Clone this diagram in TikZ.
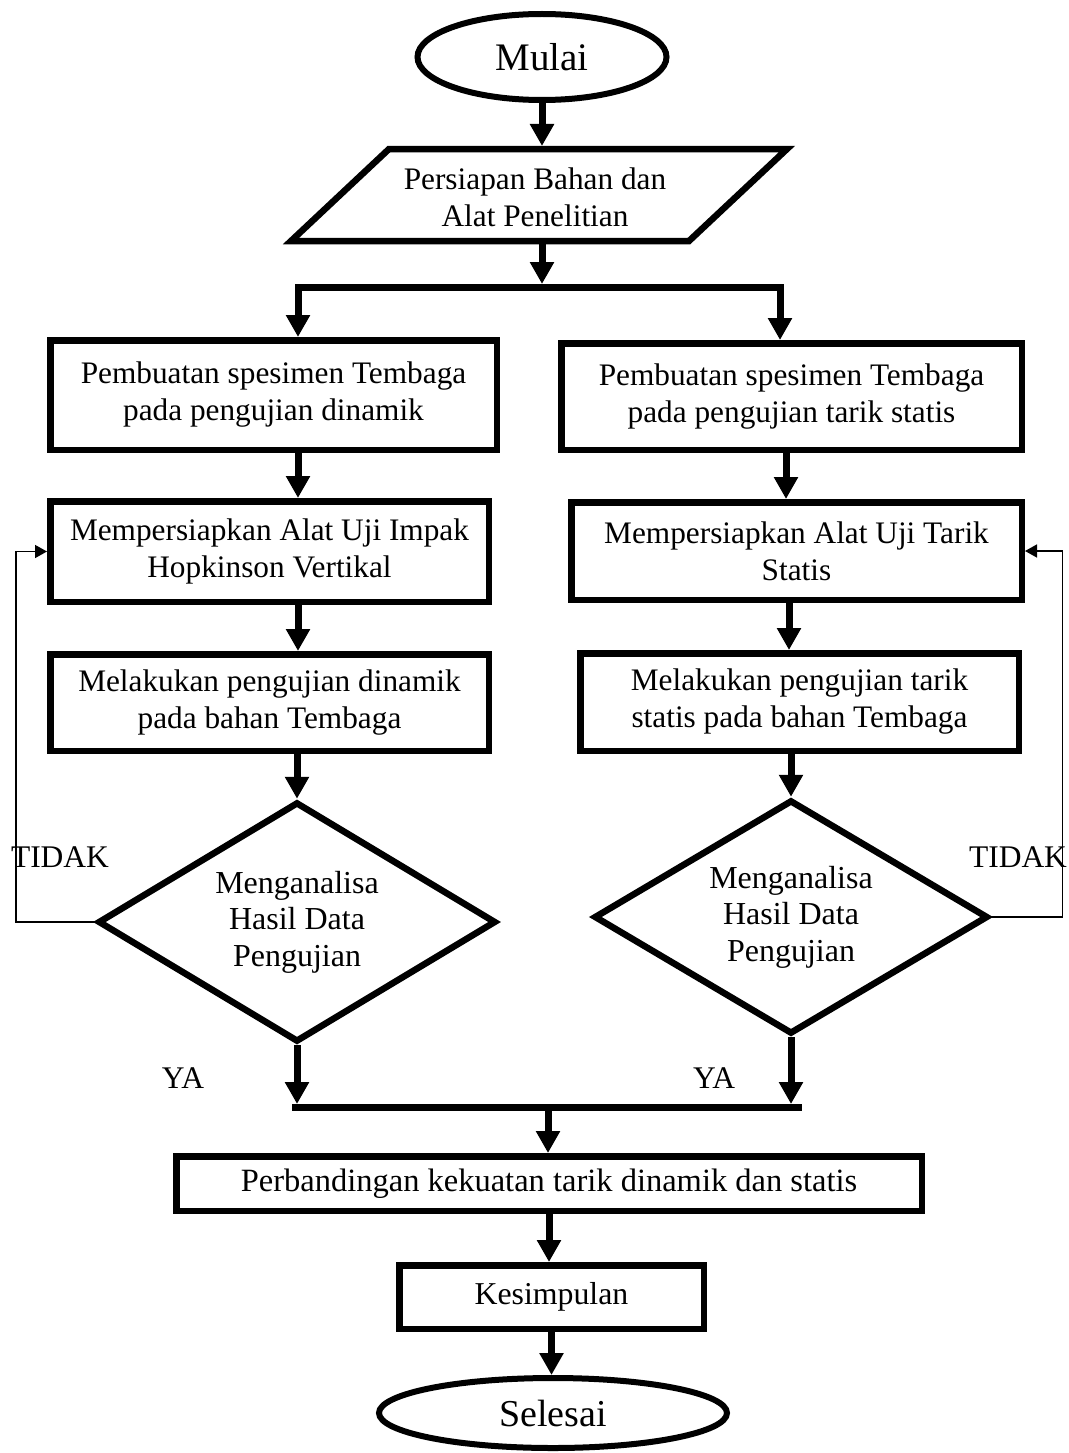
\documentclass[tikz,border=0pt]{standalone}
\usepackage{fontspec}
\setmainfont{Liberation Serif}
\usetikzlibrary{arrows.meta,shapes.geometric}
\begin{document}
\begin{tikzpicture}[x=1pt,y=-1pt,
  txt/.style={font=\fontsize{31.3}{37}\selectfont, align=center},
  box/.style={draw, line width=6.5pt, rectangle, inner sep=0pt, txt},
  term/.style={draw, line width=6pt, ellipse, inner sep=0pt},
  dec/.style={draw, line width=6.5pt, diamond, inner sep=0pt, font=\fontsize{32}{36.5}\selectfont, align=center},
  arr/.style={line width=7pt, -{Triangle[width=23pt,length=22pt]}},
  fb/.style={line width=1.5pt, -{Triangle[width=13pt,length=12pt]}},
  lbl/.style={font=\fontsize{31.5}{36}\selectfont},
  bar/.style={line width=7pt, line cap=rect},
]
\fill[white] (0,0) rectangle (1068,1453);
\useasboundingbox (0,0) rectangle (1068,1453);

% terminals
\node[term, minimum width=249pt, minimum height=86pt, font=\fontsize{39}{40}\selectfont] (start) at (542,57) {Mulai};

% parallelogram
\draw[line width=6.5pt, line join=miter] (389,149) -- (787,149) -- (689,241) -- (291,241) -- cycle;
\node[txt] (prep) at (535,197) {Persiapan Bahan dan\\Alat Penelitian};
\coordinate (prepT) at (542,146);
\coordinate (prepB) at (542,244);

% left column
\node[box, minimum width=446.5pt, minimum height=109.5pt] (b1L) at (273.5,395) {Pembuatan spesimen Tembaga\\pada pengujian dinamik};
\node[box, minimum width=438.5pt, minimum height=100.5pt] (b2L) at (269.5,551.5) {Mempersiapkan Alat Uji Impak\\Hopkinson Vertikal};
\node[box, minimum width=438.5pt, minimum height=96.5pt] (b3L) at (269.5,702.5) {Melakukan pengujian dinamik\\pada bahan Tembaga};
\node[dec, minimum width=398pt, minimum height=240pt, aspect=1.65] (dL) at (297,922) {Menganalisa\\Hasil Data\\Pengujian};

% right column
\node[box, minimum width=460.5pt, minimum height=106.5pt] (b1R) at (791.5,396.5) {Pembuatan spesimen Tembaga\\pada pengujian tarik statis};
\node[box, minimum width=450.5pt, minimum height=97.5pt] (b2R) at (796.5,551) {Mempersiapkan Alat Uji Tarik\\Statis};
\node[box, minimum width=438.5pt, minimum height=97.5pt] (b3R) at (799.5,702) {Melakukan pengujian tarik\\statis pada bahan Tembaga};
\node[dec, minimum width=394pt, minimum height=234pt, aspect=1.65] (dR) at (791,917) {Menganalisa\\Hasil Data\\Pengujian};

% bottom
\node[box, minimum width=745.5pt, minimum height=54.5pt, font=\fontsize{32.5}{37}\selectfont] (perb) at (549,1183.5) {Perbandingan kekuatan tarik dinamik dan statis};
\node[box, minimum width=304.5pt, minimum height=63.5pt, font=\fontsize{31.8}{37}\selectfont] (kes) at (551.5,1297) {Kesimpulan};
\node[term, minimum width=348pt, minimum height=70pt, font=\fontsize{38}{40}\selectfont] (end) at (553,1413) {Selesai};

% labels
\node[lbl] (tidakL) at (60,857) {TIDAK};
\node[lbl] (tidakR) at (1018,857) {TIDAK};
\node[lbl] (yaL) at (183,1078) {YA};
\node[lbl] (yaR) at (714,1078) {YA};

% helper coordinates
\coordinate (jm) at (542,287);
\coordinate (jtop) at (542,284);
\coordinate (jL) at (298,287);
\coordinate (jR) at (780,287);
\coordinate (cL) at (298,0);
\coordinate (cR1) at (786,0);
\coordinate (cR2) at (789,0);
\coordinate (mL) at (292,1107);
\coordinate (mR) at (802,1107);
\coordinate (mid) at (548,1107);
\coordinate (mtop) at (0,1104);

% connectors
\draw[arr] (start) -- (prepT);
\draw[arr] (prepB) -- (jtop);
\draw[bar] (jL) -- (jR);
\draw[arr, line cap=rect] (jL) -- (jL |- b1L.north);
\draw[arr, line cap=rect] (jR) -- (jR |- b1R.north);

\draw[arr] (b1L.south -| cL) -- (b2L.north -| cL);
\draw[arr] (b2L.south -| cL) -- (b3L.north -| cL);
\draw[arr] (b3L.south -| dL.north) -- (dL.north);
\draw[arr] (dL.south) -- (dL.south |- mtop);

\draw[arr] (b1R.south -| cR1) -- (b2R.north -| cR1);
\draw[arr] (b2R.south -| cR2) -- (b3R.north -| cR2);
\draw[arr] (b3R.south -| dR.north) -- (dR.north);
\draw[arr] (dR.south) -- (dR.south |- mtop);

\draw[fb] (dL.west) -- ++(-79,0) |- (b2L.west);
\draw[fb] (dR.east) -- ++(71,0) |- (b2R.east);

\draw[line width=7pt] (mL) -- (mR);
\draw[arr] (mid) -- (mid |- perb.north);
\draw[arr] (perb.south) -- (perb.south |- kes.north);
\draw[arr] (kes.south) -- (kes.south |- end.north);
\end{tikzpicture}
\end{document}
